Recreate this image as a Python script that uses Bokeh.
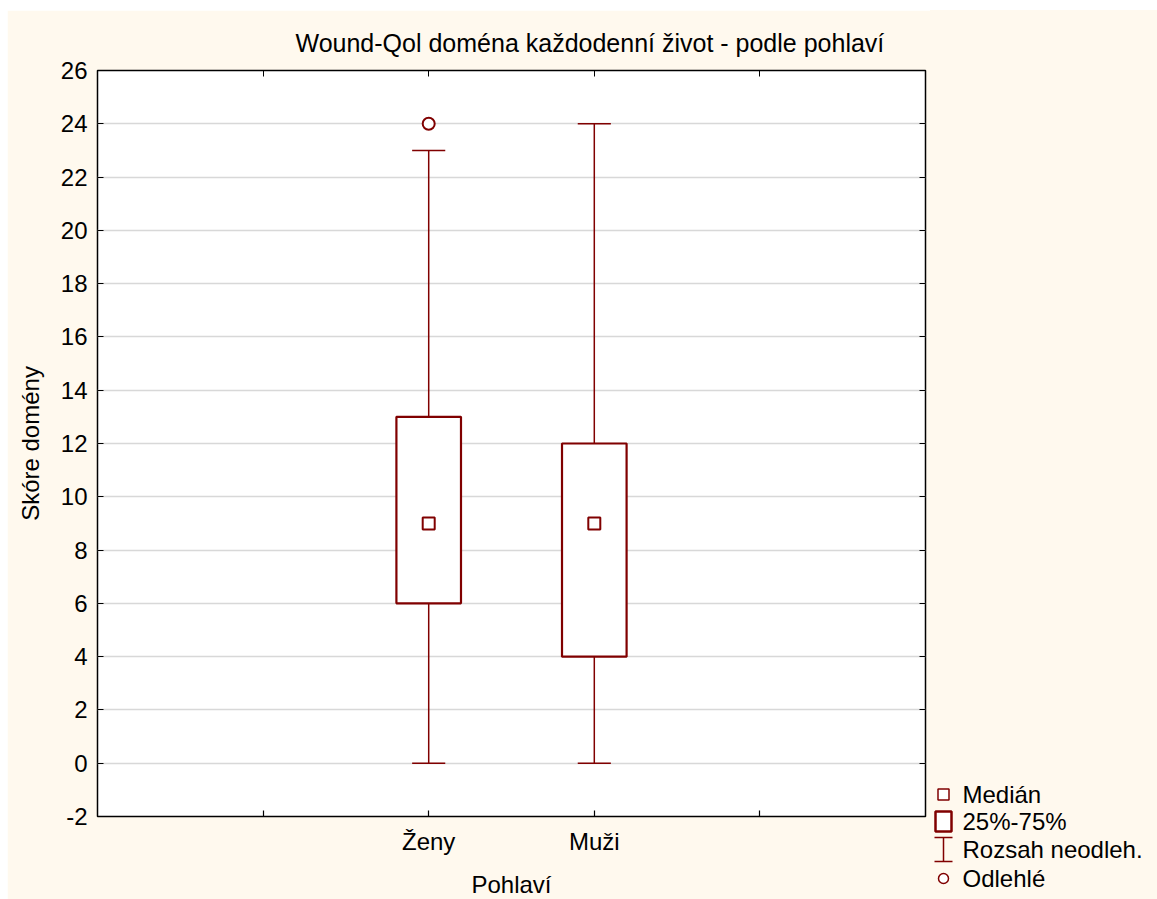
from bokeh.plotting import figure
from bokeh.layouts import row, column
from bokeh.models import (FixedTicker, LinearAxis, Title, Spacer, ColumnDataSource)
from bokeh.core.properties import value
from bokeh.embed import file_html
from bokeh.resources import INLINE

# Wound-QoL daily-life domain scores by sex
categories = ["Ženy", "Muži"]
whisker_low = [0, 0]
q1 = [6, 4]
median = [9, 9]
q3 = [13, 12]
whisker_high = [23, 24]
outlier_cat = ["Ženy"]
outlier_val = [24]

x_ticks = [1, 2, 3, 4]
y_ticks = [-2, 0, 2, 4, 6, 8, 10, 12, 14, 16, 18, 20, 22, 24, 26]

legend_labels = ["Medián", "25%-75%", "Rozsah neodleh.", "Odlehlé"]

CREAM = "#FFF9EE"
RED = "#800000"
FONT = "Liberation Sans"
FS = "24px"

pos = {c: i + 2 for i, c in enumerate(categories)}
xs = [pos[c] for c in categories]

p = figure(frame_width=828, frame_height=746, x_range=(0, 5), y_range=(-2, 26),
           output_backend="svg", toolbar_location=None,
           min_border_left=90, min_border_right=5, min_border_top=60, min_border_bottom=83,
           x_axis_label="Pohlaví", y_axis_label="Skóre domény")
p.title = None
p.background_fill_color = "white"
p.border_fill_color = CREAM
p.outline_line_color = "black"
p.outline_line_width = 1.5

p.xgrid.visible = False
p.ygrid.ticker = FixedTicker(ticks=y_ticks)
p.ygrid.grid_line_color = "#D8D8D8"
p.ygrid.grid_line_width = 1.5

p.xaxis.ticker = FixedTicker(ticks=x_ticks)
p.xaxis.major_label_overrides = {1: "", 2: categories[0], 3: categories[1], 4: ""}
p.yaxis.ticker = FixedTicker(ticks=y_ticks)
p.yaxis.major_label_overrides = {t: str(t) for t in y_ticks}

for ax in (p.xaxis[0], p.yaxis[0]):
    ax.axis_line_color = None
    ax.major_tick_in = 6
    ax.major_tick_out = 0
    ax.major_tick_line_color = "black"
    ax.major_tick_line_width = 1.2
    ax.minor_tick_line_color = None
    ax.major_label_text_font = FONT
    ax.major_label_text_font_size = FS
    ax.major_label_text_color = "black"
    ax.axis_label_text_font = FONT
    ax.axis_label_text_font_size = FS
    ax.axis_label_text_font_style = "normal"
    ax.axis_label_text_color = "black"

p.yaxis.major_label_standoff = 10
p.yaxis.axis_label_standoff = 14
p.xaxis.major_label_standoff = 11
p.xaxis.axis_label_standoff = 13

# mirrored tick marks on the top and right edges (no labels)
top = LinearAxis(ticker=FixedTicker(ticks=x_ticks), axis_line_color=None,
                 major_tick_in=6, major_tick_out=0, minor_tick_line_color=None,
                 major_label_text_font_size="0px", major_label_text_color=None,
                 major_label_standoff=0)
right = LinearAxis(ticker=FixedTicker(ticks=y_ticks), axis_line_color=None,
                   major_tick_in=6, major_tick_out=0, minor_tick_line_color=None,
                   major_label_text_font_size="0px", major_label_text_color=None,
                   major_label_standoff=0)
p.add_layout(top, "above")
p.add_layout(right, "right")

# chart title, stacked above the top axis
p.add_layout(Title(text="Wound-Qol doména každodenní život - podle pohlaví",
                   align="left", offset=198, standoff=28, text_font=FONT,
                   text_font_size="25px", text_font_style="normal",
                   text_color="black"), "above")

src = ColumnDataSource(dict(x=xs, lo=whisker_low, q1=q1, med=median, q3=q3, hi=whisker_high))

# whiskers and caps
p.segment(x0="x", y0="q3", x1="x", y1="hi", source=src, line_color=RED, line_width=1.5)
p.segment(x0="x", y0="lo", x1="x", y1="q1", source=src, line_color=RED, line_width=1.5)
cap = 0.1
p.segment(x0=[x - cap for x in xs], y0=whisker_high, x1=[x + cap for x in xs], y1=whisker_high,
          line_color=RED, line_width=1.5)
p.segment(x0=[x - cap for x in xs], y0=whisker_low, x1=[x + cap for x in xs], y1=whisker_low,
          line_color=RED, line_width=1.5)

# interquartile boxes
p.vbar(x="x", bottom="q1", top="q3", width=0.39, source=src,
       fill_color="white", line_color=RED, line_width=2.2)

# medians
p.scatter(x="x", y="med", source=src, marker="square", size=12,
          fill_color="white", line_color=RED, line_width=2)

# outliers
p.scatter(x=[pos[c] for c in outlier_cat], y=outlier_val, marker="circle", size=12,
          fill_color="white", line_color=RED, line_width=2)

# legend panel (pixel-like coordinates, y pointing down)
lg = figure(width=227, height=129, x_range=(0, 227), y_range=(129, 0),
            output_backend="svg", toolbar_location=None,
            min_border=0, min_border_left=0, min_border_right=0,
            min_border_top=0, min_border_bottom=0)
lg.axis.visible = False
lg.grid.visible = False
lg.outline_line_color = None
lg.background_fill_color = CREAM
lg.border_fill_color = CREAM

key_x = 13
key_y = [24, 51, 79, 108]
lg.scatter(x=[key_x], y=[key_y[0]], marker="square", size=11,
           fill_color="white", line_color=RED, line_width=1.5)
lg.rect(x=[key_x], y=[key_y[1]], width=16, height=20,
        fill_color="white", line_color=RED, line_width=2.5)
lg.segment(x0=[key_x], y0=[key_y[2] - 12], x1=[key_x], y1=[key_y[2] + 12],
           line_color=RED, line_width=1.5)
lg.segment(x0=[key_x - 9, key_x - 9], y0=[key_y[2] - 12, key_y[2] + 12],
           x1=[key_x + 9, key_x + 9], y1=[key_y[2] - 12, key_y[2] + 12],
           line_color=RED, line_width=1.5)
lg.scatter(x=[key_x], y=[key_y[3]], marker="circle", size=10,
           fill_color="white", line_color=RED, line_width=1.5)
lg.text(x=[32] * 4, y=key_y, text=legend_labels, text_baseline="middle",
        text_font=value(FONT), text_font_size=FS, text_color="black")

side = column(Spacer(width=227, height=760, styles={"background-color": CREAM}), lg,
              spacing=0, styles={"background-color": CREAM})
inner = row(p, side, spacing=0)
page = row(Spacer(width=7), column(Spacer(height=10), inner, spacing=0), spacing=0)

open("out.html", "w").write(file_html(page, INLINE))
